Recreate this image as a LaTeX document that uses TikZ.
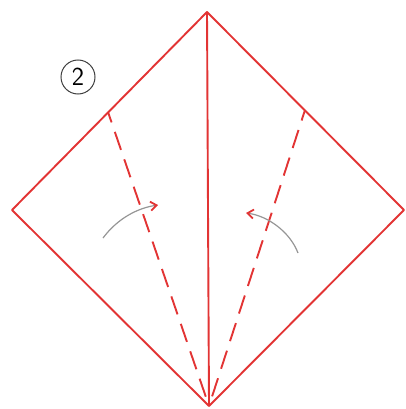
\documentclass[tikz,border=0pt]{standalone}
\usetikzlibrary{arrows.meta}
\definecolor{foldred}{RGB}{226,52,52}
\definecolor{handgray}{RGB}{150,150,150}
\begin{document}
\begin{tikzpicture}[x=1pt,y=-1pt]
    \useasboundingbox (0,0) rectangle (406,409);
    \tikzset{
      edge/.style={foldred, line width=1.9pt, line join=round},
      valley/.style={foldred, line width=1.9pt, dash pattern=on 19pt off 10pt, dash phase=8pt},
      turn/.style={handgray, line width=1.2pt, -{Straight Barb[foldred, length=6pt, width=9pt, line width=1.8pt]}}
    }
    % square seen as a diamond
    \coordinate (top) at (207,12);
    \coordinate (bot) at (209,406);
    \coordinate (lft) at (12,210);
    \coordinate (rgt) at (404,210);
    \coordinate (lmark) at (108,112);
    \coordinate (rmark) at (305,110);
    \draw[edge] (top) -- (lft) -- (bot) -- (rgt) -- cycle;
    \draw[edge] (top) -- (bot);
    % folds towards the middle line
    \draw[valley] (lmark) -- (bot);
    \draw[valley] (rmark) -- (bot);
    \draw[turn] (103,238) .. controls (118,218) and (138,208) .. (158,205);
    \draw[turn] (298,253) .. controls (290,232) and (268,216) .. (246,213);
    \node[draw=black!75, circle, line width=1pt, inner sep=0pt, minimum size=34pt, font=\sffamily\fontsize{26}{28}\selectfont] (step2) at (78,77) {2};
  \end{tikzpicture}
\end{document}
